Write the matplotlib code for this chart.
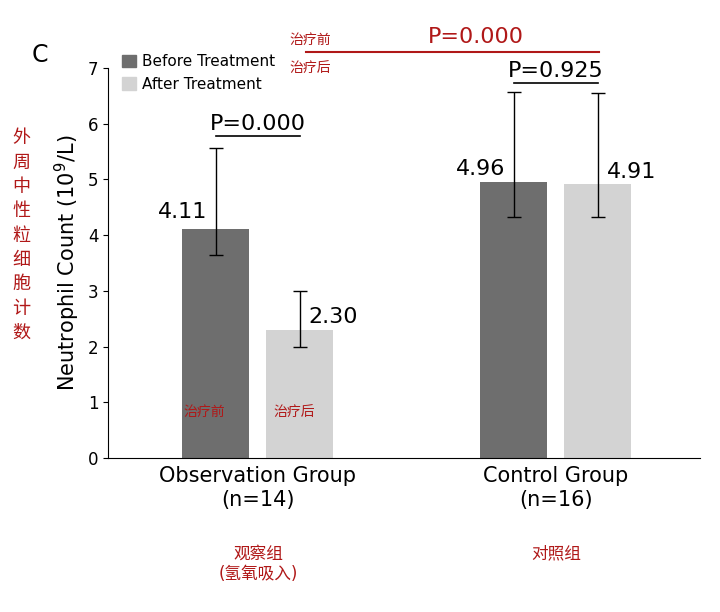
import matplotlib
matplotlib.use("Agg")
import matplotlib.pyplot as plt
import numpy as np

plt.rcParams['font.family'] = ['DejaVu Sans', 'Noto Sans CJK SC']

groups = ["Observation Group\n(n=14)", "Control Group\n(n=16)"]
groups_cn = ["观察组\n(氢氧吸入)", "对照组"]
before = [4.11, 4.96]
after = [2.30, 4.91]
before_lo = [3.65, 4.33]
before_hi = [5.57, 6.57]
after_lo = [2.00, 4.33]
after_hi = [3.00, 6.55]
pvals = ["P=0.000", "P=0.925"]

c_before = "#6e6e6e"
c_after = "#d3d3d3"
red = "#b01818"

fig = plt.figure(figsize=(7.2, 6.12), dpi=100)
ax = fig.add_axes([0.15, 0.2516, 0.822, 0.6374])
x = np.arange(len(groups))
w = 0.225
off = 0.141
xb = x - off
xa = x + off
ax.bar(xb, before, w, color=c_before)
ax.bar(xa, after, w, color=c_after)
for xs, v, lo, hi in [(xb, before, before_lo, before_hi), (xa, after, after_lo, after_hi)]:
    err = [np.array(v) - np.array(lo), np.array(hi) - np.array(v)]
    ax.errorbar(xs, v, yerr=err, fmt='none', ecolor='black', elinewidth=1, capsize=5)
ax.text(xb[0] - 0.03, before[0] + 0.12, f"{before[0]:.2f}", ha='right', va='bottom', fontsize=16)
ax.text(xa[0] + 0.03, after[0] + 0.05, f"{after[0]:.2f}", ha='left', va='bottom', fontsize=16)
ax.text(xb[1] - 0.03, before[1] + 0.05, f"{before[1]:.2f}", ha='right', va='bottom', fontsize=16)
ax.text(xa[1] + 0.03, after[1] + 0.05, f"{after[1]:.2f}", ha='left', va='bottom', fontsize=16)
ax.plot([xb[0], xa[0]], [5.78, 5.78], color='black', lw=1.2, clip_on=False)
ax.text(x[0], 5.82, pvals[0], ha='center', va='bottom', fontsize=16)
ax.plot([xb[1], xa[1]], [6.73, 6.73], color='black', lw=1.2, clip_on=False)
ax.text(x[1], 6.77, pvals[1], ha='center', va='bottom', fontsize=16)
ax.plot([0.16, xa[1] + 0.005], [7.29, 7.29], color=red, lw=1.5, clip_on=False)
ax.text(0.73, 7.38, "P=0.000", color=red, ha='center', va='bottom', fontsize=16)
ax.text(0.105, 7.37, "治疗前", color=red, fontsize=10, va='bottom')
ax.text(0.105, 6.88, "治疗后", color=red, fontsize=10, va='bottom')
ax.text(xb[0] - 0.04, 0.75, "治疗前", color=red, fontsize=10, ha='center')
ax.text(xa[0] - 0.02, 0.75, "治疗后", color=red, fontsize=10, ha='center')

ax.set_xlim(-0.503, 1.483)
ax.set_ylim(0, 7)
ax.set_yticks(range(8))
ax.tick_params(axis='y', labelsize=12)
ax.set_xticks(x)
ax.set_xticklabels(groups, fontsize=15)
ax.tick_params(axis='x', length=0, pad=6)
for s in ['top', 'right']:
    ax.spines[s].set_visible(False)
ax.set_ylabel("Neutrophil Count (10$^9$/L)", fontsize=15)

from matplotlib.patches import Patch
ax.legend(handles=[Patch(color=c_before, label="Before Treatment"), Patch(color=c_after, label="After Treatment")],
          loc='upper left', bbox_to_anchor=(0.0, 1.07), frameon=False, fontsize=11,
          handlelength=0.9, handleheight=0.9, handletextpad=0.4, labelspacing=0.5)

for i, t in enumerate(groups_cn):
    ax.text(x[i], -1.55, t, color=red, ha='center', va='top', fontsize=12, clip_on=False)
fig.text(0.055, 0.91, "C", fontsize=17, ha='center', va='center')
fig.text(0.03, 0.615, "\n".join("外周中性粒细胞计数"), color=red, fontsize=13, ha='center', va='center', linespacing=1.45)
fig.savefig("out.png", dpi=100)
